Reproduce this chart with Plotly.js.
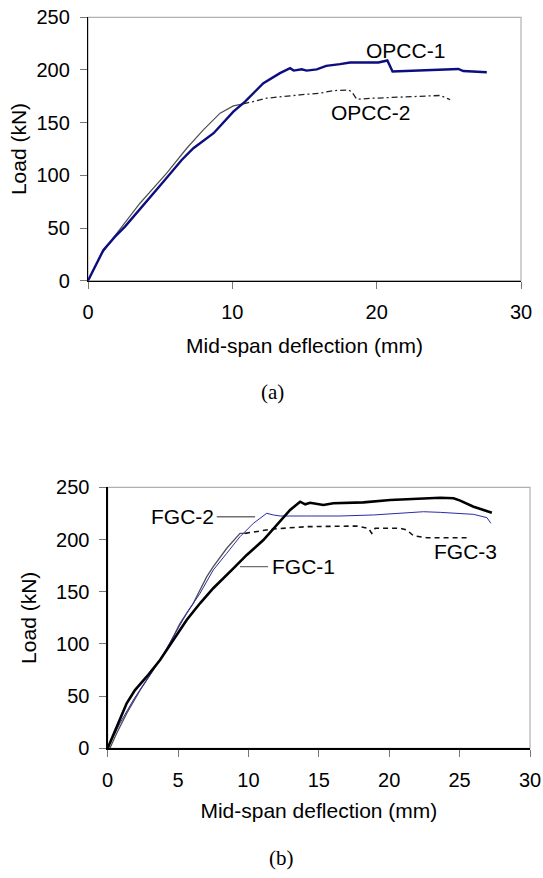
<!DOCTYPE html>
<html>
<head>
<meta charset="utf-8">
<script src="https://cdn.plot.ly/plotly-3.0.1.min.js"></script>
<style>
html,body{margin:0;padding:0;background:#fff;}
#chart{width:543px;height:878px;}
</style>
</head>
<body>
<div id="chart"></div>
<script>
// ---- Chart (a): OPCC beams ----
const opcc1X = [0,1.06,1.87,2.56,5.22,6.49,7.3,8.22,8.7,10.07,10.88,12.15,13.3,14.0,14.25,14.8,15.15,15.85,16.5,17.46,18.16,20.12,20.58,20.74,21.1,22.54,24.4,25.66,26.0,26.7,27.63];
const opcc1Y = [0,29,41.8,51.3,94,114.6,125.7,135.2,140,160.5,170,187.4,197,201.7,199.4,200.6,199.4,200.6,203.9,205.5,207.1,207.1,208,209,198.5,199.4,200,201,199,198.5,197.9];

const opcc2SolidX = [0,0.97,1.99,3.6,5.45,6.84,7.99,9.15,10.07,10.76];
const opcc2SolidY = [0,26,45,73.5,102,125.7,143.1,159,165.9,167.8];
const opcc2DashX = [10.76,12.38,14.69,16.07,17.0,18.04,18.27,18.62,19.77,22.08,24.4,25.09];
const opcc2DashY = [167.8,173.2,176.4,178,180.4,181,179.4,172.2,173.2,174.8,175.8,171.8];

// ---- Chart (b): FGC beams ----
const fgc1X = [0,0.64,1.35,1.94,2.77,3.72,4.66,5.61,6.56,7.5,8.93,9.88,11.06,12.01,12.96,13.67,14.03,14.38,15.32,16.03,18.17,20.07,22.2,23.62,24.57,25.04,25.99,27.29];
const fgc1Y = [0,20.7,43.1,55.8,68.6,84.6,103.7,122.9,138.9,153.3,172.4,185.2,199.5,213.9,228.3,236.2,233.7,235.2,233,234.7,235.6,237.8,239.5,240,239.5,237.2,231.4,225.7];

const fgc2X = [0,0.87,1.82,2.77,3.72,4.66,5.61,6.56,7.5,8.46,9.4,10.35,11.3,11.77,12.25,14.14,16.51,18.88,21.25,22.43,23.62,25.99,26.94,27.22];
const fgc2Y = [0,24,46.3,65.4,84.6,106.9,129.3,148.5,170.8,186.8,202.7,215.5,225.1,223.5,222.5,222.5,222.5,223.5,225.1,226.6,226,224.1,220.9,215.5];

const fgc3SolidX = [0.16,0.64,1.35,2.3,3.24,4.19,5.14,6.08,7.04,7.5,8.46,9.4,9.76];
const fgc3SolidY = [0,14.4,33.5,55.8,75,94.2,119.7,138.9,164.4,174,191.6,205.9,205.9];
const fgc3DashX = [9.76,10.82,11.77,14.14,17.7,18.52,18.76,19.0,20.78,21.25,21.72,22.67,24.09,25.52];
const fgc3DashY = [205.9,208.1,210.1,212.3,212.9,210.7,205.9,210.7,210.7,209.1,203.6,201.7,201.7,201.7];

// ---- Axis ticks and labels ----
const xTicksA = [0,10,20,30];
const xTicksB = [0,5,10,15,20,25,30];
const yTicks = [0,50,100,150,200,250];
const xTitle = "Mid-span deflection (mm)";
const yTitle = "Load (kN)";
const seriesLabels = ["OPCC-1","OPCC-2","FGC-1","FGC-2","FGC-3"];
const panelLabels = ["(a)","(b)"];

const SANS = "Liberation Sans, Arial, sans-serif";
const SERIF = "Liberation Serif, Times New Roman, serif";

const traces = [
  {x: opcc2SolidX, y: opcc2SolidY, xaxis:'x', yaxis:'y', mode:'lines', line:{color:'#505050', width:1.2}, name:'OPCC-2'},
  {x: opcc2DashX, y: opcc2DashY, xaxis:'x', yaxis:'y', mode:'lines', line:{color:'#222', width:1.3, dash:'6px,3px,2px,3px'}, name:'OPCC-2', showlegend:false},
  {x: opcc1X, y: opcc1Y, xaxis:'x', yaxis:'y', mode:'lines', line:{color:'#0d0d80', width:2.4}, name:'OPCC-1'},

  {x: fgc3SolidX, y: fgc3SolidY, xaxis:'x2', yaxis:'y2', mode:'lines', line:{color:'#505050', width:1.3}, name:'FGC-3'},
  {x: fgc3DashX, y: fgc3DashY, xaxis:'x2', yaxis:'y2', mode:'lines', line:{color:'#111', width:1.6, dash:'5px,4px'}, name:'FGC-3', showlegend:false},
  {x: fgc2X, y: fgc2Y, xaxis:'x2', yaxis:'y2', mode:'lines', line:{color:'#2b2ba8', width:1}, name:'FGC-2'},
  {x: fgc1X, y: fgc1Y, xaxis:'x2', yaxis:'y2', mode:'lines', line:{color:'#000', width:2.6}, name:'FGC-1'}
];

function xAxis(domain, ticks, anchor, standoff){
  return {
    domain: domain, anchor: anchor, range:[0,30], tickvals: ticks, ticktext: ticks.map(String),
    showgrid:false, zeroline:false, showline:true, linecolor:'#000', linewidth:1.2,
    ticks:'outside', ticklen:7, tickcolor:'#777', tickwidth:1, ticklabelstandoff:6,
    tickfont:{family:SANS, size:20, color:'#000'},
    title:{text:xTitle, font:{family:SANS, size:21, color:'#000'}, standoff: standoff},
    fixedrange:true
  };
}
function yAxis(domain, anchor, standoff){
  return {
    domain: domain, anchor: anchor, range:[0,250], tickvals: yTicks, ticktext: yTicks.map(String),
    showgrid:false, zeroline:false, showline:true, linecolor:'#000', linewidth:1.2,
    ticks:'outside', ticklen:7, tickcolor:'#777', tickwidth:1, ticklabelstandoff:6,
    tickfont:{family:SANS, size:20, color:'#000'},
    title:{text:yTitle, font:{family:SANS, size:21, color:'#000'}, standoff:standoff},
    fixedrange:true
  };
}

const ann = (text, xref, yref, x, y, size, family, xanchor) => ({
  text:text, xref:xref, yref:yref, x:x, y:y, showarrow:false,
  font:{family:family, size:size, color:'#000'}, xanchor:xanchor||'center', yanchor:'middle'
});

const layout = {
  width:543, height:878,
  margin:{l:0, r:0, t:0, b:0},
  paper_bgcolor:'#fff', plot_bgcolor:'#fff',
  showlegend:false,
  xaxis: xAxis([0.1621,0.9595], xTicksA, 'y', 16),
  yaxis: yAxis([0.6803,0.9803], 'x', 4),
  xaxis2: xAxis([0.1983,0.9761], xTicksB, 'y2', 13),
  yaxis2: yAxis([0.1477,0.445], 'x2', 13),
  shapes: [
    {type:'rect', xref:'x domain', yref:'y domain', x0:0, x1:1, y0:0, y1:1, line:{color:'#b0b0b0', width:1.2}, layer:'below'},
    {type:'rect', xref:'x2 domain', yref:'y2 domain', x0:0, x1:1, y0:0, y1:1, line:{color:'#b0b0b0', width:1.2}, layer:'below'},
    {type:'line', xref:'x2', yref:'y2', x0:7.75, x1:10.47, y0:221.8, y1:221.8, line:{color:'#707070', width:1.3}},
    {type:'line', xref:'x2', yref:'y2', x0:9.4, x1:11.39, y0:174, y1:174, line:{color:'#707070', width:1.3}}
  ],
  annotations: [
    ann(seriesLabels[0], 'x', 'y', 21.97, 218.4, 21, SANS),
    ann(seriesLabels[1], 'x', 'y', 19.54, 159.3, 21, SANS),
    ann(seriesLabels[2], 'x2', 'y2', 11.5, 174, 21, SANS, 'left'),
    ann(seriesLabels[3], 'x2', 'y2', 7.7, 221.8, 21, SANS, 'right'),
    ann(seriesLabels[4], 'x2', 'y2', 25.4, 188.3, 21, SANS),
    ann(panelLabels[0], 'paper', 'paper', 272/543, 1-392/878, 21, SERIF),
    ann(panelLabels[1], 'paper', 'paper', 281/543, 1-858/878, 21, SERIF)
  ]
};

Plotly.newPlot('chart', traces, layout, {displayModeBar:false, staticPlot:true});
</script>
</body>
</html>
